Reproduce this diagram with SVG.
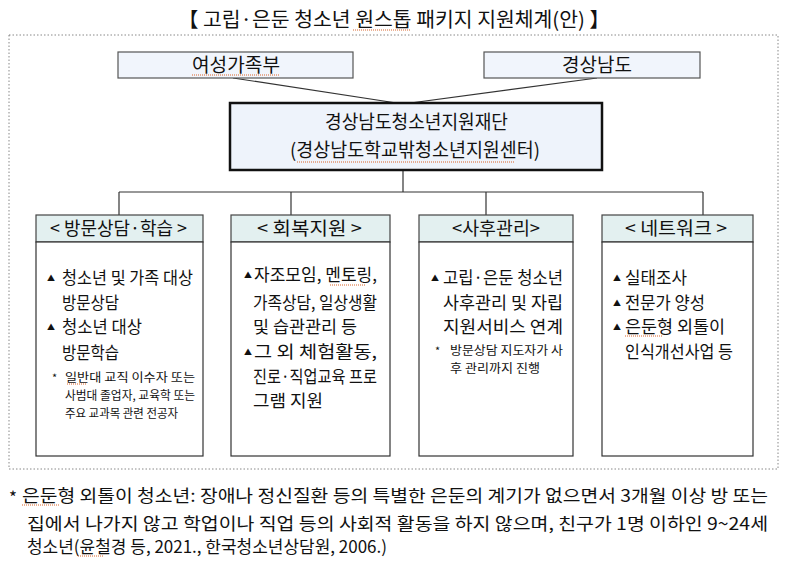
<svg xmlns="http://www.w3.org/2000/svg" width="787" height="563" viewBox="0 0 787 563">
<style>
text{font-family:"Noto Sans CJK KR","Noto Sans",sans-serif;fill:#111;}
.t19{font-size:19px;}
.t18{font-size:18px;}
.t17{font-size:17px;}
.t13{font-size:12px;}
.bul{font-size:8px;}
.star{font-size:11px;}
.top{fill:#f1f5fc;stroke:#555;stroke-width:1.2;}
.ctr{fill:#eef3fb;stroke:#111;stroke-width:2.5;}
.hdr{fill:#e3f0f0;stroke:#444;stroke-width:1.2;}
.body{fill:#fff;stroke:#333;stroke-width:1.2;}
.conn line{stroke:#333;stroke-width:1.2;}
.sq{stroke:#d9642a;stroke-width:1;stroke-dasharray:1 1;}
</style>
<rect width="787" height="563" fill="#fff"/>
<text x="178" y="26.5" font-size="20" textLength="432" lengthAdjust="spacingAndGlyphs">【 고립·은둔 청소년 원스톱 패키지 지원체계(안) 】</text>
<rect x="9" y="35" width="769" height="434" fill="none" stroke="#888" stroke-width="1" stroke-dasharray="1.5 2"/>
<g class="conn">
<line x1="233" y1="78" x2="403" y2="104"/>
<line x1="597" y1="78" x2="403" y2="104"/>
<line x1="403" y1="170" x2="403" y2="192"/>
<line x1="119" y1="192" x2="703" y2="192"/>
<line x1="119" y1="192" x2="119" y2="215"/>
<line x1="291" y1="192" x2="291" y2="215"/>
<line x1="486" y1="192" x2="486" y2="215"/>
<line x1="703" y1="192" x2="703" y2="215"/>
</g>
<g id="n-mogef">
<rect class="top" x="118" y="52" width="235" height="26"/>
<text class="t19" x="192" y="72" textLength="88" lengthAdjust="spacingAndGlyphs">여성가족부</text>
</g>
<g id="n-gyeongnam">
<rect class="top" x="484" y="52" width="216" height="26"/>
<text class="t19" x="562" y="72" textLength="70" lengthAdjust="spacingAndGlyphs">경상남도</text>
</g>
<g id="n-center">
<rect class="ctr" x="230" y="103" width="372" height="67"/>
<text class="t19" x="325" y="129" textLength="183" lengthAdjust="spacingAndGlyphs">경상남도청소년지원재단</text>
<text class="t19" x="290" y="157" textLength="250" lengthAdjust="spacingAndGlyphs">(경상남도학교밖청소년지원센터)</text>
</g>
<g id="n-visit">
<rect class="hdr" x="36" y="215" width="167" height="27"/>
<text class="t18" x="50" y="234.7" textLength="137" lengthAdjust="spacingAndGlyphs">&lt; 방문상담·학습 &gt;</text>
<rect class="body" x="36" y="242" width="167" height="214"/>
<text class="bul" x="47" y="281">▲</text>
<text class="t17" x="62" y="284.3" textLength="131" lengthAdjust="spacingAndGlyphs">청소년 및 가족 대상</text>
<text class="t17" x="62" y="309.3" textLength="57" lengthAdjust="spacingAndGlyphs">방문상담</text>
<text class="bul" x="47" y="330">▲</text>
<text class="t17" x="62" y="333.3" textLength="80" lengthAdjust="spacingAndGlyphs">청소년 대상</text>
<text class="t17" x="62" y="358.8" textLength="57" lengthAdjust="spacingAndGlyphs">방문학습</text>
<text class="star" x="52" y="382">*</text>
<text class="t13" x="65" y="382" textLength="130" lengthAdjust="spacingAndGlyphs">일반대 교직 이수자 또는</text>
<text class="t13" x="65" y="400" textLength="130" lengthAdjust="spacingAndGlyphs">사범대 졸업자, 교육학 또는</text>
<text class="t13" x="65" y="418" textLength="113" lengthAdjust="spacingAndGlyphs">주요 교과목 관련 전공자</text>
</g>
<g id="n-recovery">
<rect class="hdr" x="231" y="215" width="159" height="27"/>
<text class="t18" x="257" y="234.7" textLength="105" lengthAdjust="spacingAndGlyphs">&lt; 회복지원 &gt;</text>
<rect class="body" x="231" y="242" width="159" height="214"/>
<text class="bul" x="244" y="278">▲</text>
<text class="t17" x="254" y="281.3" textLength="123" lengthAdjust="spacingAndGlyphs">자조모임, 멘토링,</text>
<text class="t17" x="253" y="309.3" textLength="124" lengthAdjust="spacingAndGlyphs">가족상담, 일상생활</text>
<text class="t17" x="253" y="333.3" textLength="104" lengthAdjust="spacingAndGlyphs">및 습관관리 등</text>
<text class="bul" x="244" y="355">▲</text>
<text class="t17" x="254" y="358.3" textLength="123" lengthAdjust="spacingAndGlyphs">그 외 체험활동,</text>
<text class="t17" x="253" y="383.3" textLength="124" lengthAdjust="spacingAndGlyphs">진로·직업교육 프로</text>
<text class="t17" x="253" y="407" textLength="70" lengthAdjust="spacingAndGlyphs">그램 지원</text>
</g>
<g id="n-aftercare">
<rect class="hdr" x="419" y="215" width="154" height="27"/>
<text class="t18" x="452" y="234.7" textLength="88" lengthAdjust="spacingAndGlyphs">&lt;사후관리&gt;</text>
<rect class="body" x="419" y="242" width="154" height="214"/>
<text class="bul" x="431" y="281">▲</text>
<text class="t17" x="443" y="284.3" textLength="120" lengthAdjust="spacingAndGlyphs">고립·은둔 청소년</text>
<text class="t17" x="443" y="309.3" textLength="120" lengthAdjust="spacingAndGlyphs">사후관리 및 자립</text>
<text class="t17" x="443" y="333.3" textLength="120" lengthAdjust="spacingAndGlyphs">지원서비스 연계</text>
<text class="star" x="435" y="355">*</text>
<text class="t13" x="450" y="355" textLength="113" lengthAdjust="spacingAndGlyphs">방문상담 지도자가 사</text>
<text class="t13" x="450" y="373" textLength="90" lengthAdjust="spacingAndGlyphs">후 관리까지 진행</text>
</g>
<g id="n-network">
<rect class="hdr" x="602" y="215" width="151" height="27"/>
<text class="t18" x="625" y="234.7" textLength="102" lengthAdjust="spacingAndGlyphs">&lt; 네트워크 &gt;</text>
<rect class="body" x="602" y="242" width="151" height="214"/>
<text class="bul" x="613" y="281">▲</text>
<text class="t17" x="625" y="284.3" textLength="62" lengthAdjust="spacingAndGlyphs">실태조사</text>
<text class="bul" x="613" y="306">▲</text>
<text class="t17" x="625" y="309.3" textLength="80" lengthAdjust="spacingAndGlyphs">전문가 양성</text>
<text class="bul" x="613" y="330">▲</text>
<text class="t17" x="625" y="333.3" textLength="100" lengthAdjust="spacingAndGlyphs">은둔형 외톨이</text>
<text class="t17" x="625" y="358.3" textLength="108" lengthAdjust="spacingAndGlyphs">인식개선사업 등</text>
</g>
<g id="footnote">
<text class="t17" x="9" y="504">*</text>
<text class="t17" x="22" y="502.3" textLength="746" lengthAdjust="spacingAndGlyphs">은둔형 외톨이 청소년: 장애나 정신질환 등의 특별한 은둔의 계기가 없으면서 3개월 이상 방 또는</text>
<text class="t17" x="27" y="530.3" textLength="741" lengthAdjust="spacingAndGlyphs">집에서 나가지 않고 학업이나 직업 등의 사회적 활동을 하지 않으며, 친구가 1명 이하인 9~24세</text>
<text class="t17" x="27" y="553.3" textLength="360" lengthAdjust="spacingAndGlyphs">청소년(윤철경 등, 2021., 한국청소년상담원, 2006.)</text>
</g>
<g id="squiggles">
<line class="sq" x1="353" y1="30" x2="410" y2="30"/>
<line class="sq" x1="192" y1="75" x2="280" y2="75"/>
<line class="sq" x1="297" y1="162" x2="515" y2="162"/>
<line class="sq" x1="330" y1="285" x2="365" y2="285"/>
<line class="sq" x1="67" y1="384" x2="86" y2="384"/>
<line class="sq" x1="625" y1="336" x2="662" y2="336"/>
<line class="sq" x1="22" y1="505" x2="60" y2="505"/>
<line class="sq" x1="78" y1="556" x2="103" y2="556"/>
</g>
</svg>
